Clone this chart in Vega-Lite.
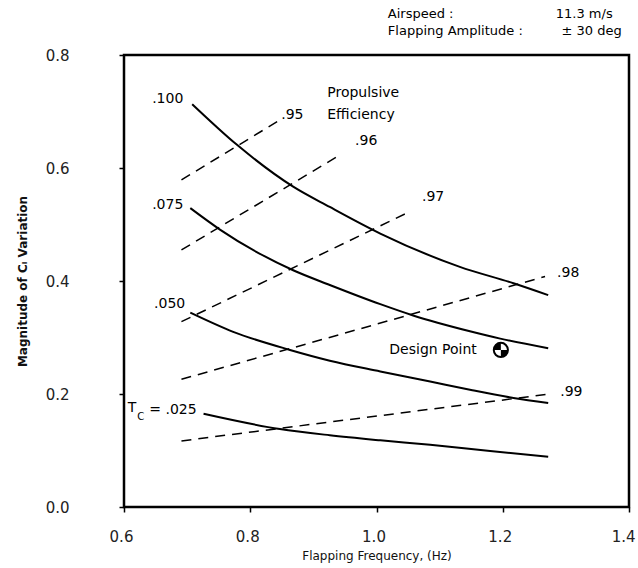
{
  "$schema": "https://vega.github.io/schema/vega-lite/v6.json",
  "width": 505,
  "height": 452,
  "autosize": {"type": "none"},
  "padding": {"left": 124, "top": 55, "right": 9, "bottom": 61},
  "background": "white",
  "config": {
    "font": "DejaVu Sans",
    "view": {"stroke": "black", "strokeWidth": 2.5},
    "axis": {"grid": false, "domain": false, "tickColor": "black", "tickWidth": 1.5, "tickSize": 5, "labelColor": "#222", "titleColor": "#111", "labelFont": "DejaVu Sans", "titleFont": "DejaVu Sans"}
  },
  "datasets": {
    "curves": [
      {"tc": ".100", "f": 0.708, "cl": 0.713},
      {"tc": ".100", "f": 0.779, "cl": 0.641},
      {"tc": ".100", "f": 0.868, "cl": 0.567},
      {"tc": ".100", "f": 0.926, "cl": 0.531},
      {"tc": ".100", "f": 1.006, "cl": 0.484},
      {"tc": ".100", "f": 1.132, "cl": 0.425},
      {"tc": ".100", "f": 1.217, "cl": 0.396},
      {"tc": ".100", "f": 1.272, "cl": 0.375},
      {"tc": ".075", "f": 0.705, "cl": 0.529},
      {"tc": ".075", "f": 0.752, "cl": 0.491},
      {"tc": ".075", "f": 0.868, "cl": 0.419},
      {"tc": ".075", "f": 0.926, "cl": 0.393},
      {"tc": ".075", "f": 1.006, "cl": 0.359},
      {"tc": ".075", "f": 1.058, "cl": 0.339},
      {"tc": ".075", "f": 1.148, "cl": 0.311},
      {"tc": ".075", "f": 1.196, "cl": 0.298},
      {"tc": ".075", "f": 1.272, "cl": 0.281},
      {"tc": ".050", "f": 0.705, "cl": 0.344},
      {"tc": ".050", "f": 0.773, "cl": 0.310},
      {"tc": ".050", "f": 0.863, "cl": 0.278},
      {"tc": ".050", "f": 0.926, "cl": 0.259},
      {"tc": ".050", "f": 1.006, "cl": 0.240},
      {"tc": ".050", "f": 1.085, "cl": 0.222},
      {"tc": ".050", "f": 1.150, "cl": 0.207},
      {"tc": ".050", "f": 1.217, "cl": 0.193},
      {"tc": ".050", "f": 1.272, "cl": 0.184},
      {"tc": ".025", "f": 0.726, "cl": 0.165},
      {"tc": ".025", "f": 0.847, "cl": 0.138},
      {"tc": ".025", "f": 0.926, "cl": 0.127},
      {"tc": ".025", "f": 1.006, "cl": 0.118},
      {"tc": ".025", "f": 1.085, "cl": 0.110},
      {"tc": ".025", "f": 1.180, "cl": 0.099},
      {"tc": ".025", "f": 1.272, "cl": 0.089}
    ],
    "eff": [
      {"eff": ".95", "f": 0.691, "cl": 0.579},
      {"eff": ".95", "f": 0.847, "cl": 0.685},
      {"eff": ".96", "f": 0.691, "cl": 0.455},
      {"eff": ".96", "f": 0.942, "cl": 0.623},
      {"eff": ".97", "f": 0.691, "cl": 0.328},
      {"eff": ".97", "f": 1.053, "cl": 0.523},
      {"eff": ".98", "f": 0.691, "cl": 0.226},
      {"eff": ".98", "f": 1.267, "cl": 0.408},
      {"eff": ".99", "f": 0.691, "cl": 0.117},
      {"eff": ".99", "f": 1.275, "cl": 0.200}
    ],
    "rightLabels": [
      {"label": ".100", "f": 0.694, "cl": 0.722},
      {"label": ".075", "f": 0.694, "cl": 0.534},
      {"label": ".050", "f": 0.697, "cl": 0.360},
      {"label": "Design Point", "f": 1.159, "cl": 0.278}
    ],
    "leftLabels": [
      {"label": ".95", "f": 0.849, "cl": 0.694},
      {"label": ".96", "f": 0.966, "cl": 0.647},
      {"label": ".97", "f": 1.072, "cl": 0.549},
      {"label": ".98", "f": 1.286, "cl": 0.414},
      {"label": ".99", "f": 1.291, "cl": 0.204},
      {"label": "Propulsive", "f": 0.922, "cl": 0.733},
      {"label": "Efficiency", "f": 0.922, "cl": 0.694},
      {"label": "T", "f": 0.606, "cl": 0.175},
      {"label": "= .025", "f": 0.640, "cl": 0.172}
    ],
    "subLabels": [
      {"label": "C", "f": 0.621, "cl": 0.160}
    ],
    "header": [
      {"label": "Airspeed :", "f": 1.018, "cl": 0.873},
      {"label": "Flapping Amplitude :", "f": 1.018, "cl": 0.842},
      {"label": "11.3  m/s", "f": 1.284, "cl": 0.873},
      {"label": "± 30 deg", "f": 1.293, "cl": 0.842}
    ],
    "design": [
      {"f": 1.197, "cl": 0.278}
    ]
  },
  "encoding": {
    "x": {
      "field": "f", "type": "quantitative",
      "scale": {"domain": [0.6, 1.4], "nice": false, "zero": false},
      "axis": {
        "values": [0.6, 0.8, 1.0, 1.2, 1.4], "format": ".1f", "labelFontSize": 15, "labelPadding": 17,
        "labelAlign": {"condition": {"test": "datum.value >= 1.39", "value": "right"}, "value": "center"},
        "labelOffset": {"condition": {"test": "datum.value >= 1.39", "value": 6}, "value": -3},
        "title": "Flapping Frequency,  (Hz)", "titleFontSize": 12, "titleFontWeight": "normal", "titlePadding": 6, "labelFlush": false
      }
    },
    "y": {
      "field": "cl", "type": "quantitative",
      "scale": {"domain": [0, 0.8], "nice": false, "zero": false},
      "axis": {"values": [0, 0.2, 0.4, 0.6, 0.8], "format": ".1f", "labelFontSize": 15, "labelPadding": 50, "title": "Magnitude of Cₗ Variation", "titleFontSize": 12, "titleFontWeight": "bold", "titlePadding": 16}
    }
  },
  "layer": [
    {
      "data": {"name": "eff"},
      "mark": {"type": "line", "color": "black", "strokeWidth": 1.5, "strokeDash": [10, 7]},
      "encoding": {"detail": {"field": "eff"}}
    },
    {
      "data": {"name": "curves"},
      "mark": {"type": "line", "color": "black", "strokeWidth": 2, "interpolate": "monotone"},
      "encoding": {"detail": {"field": "tc"}}
    },
    {
      "data": {"name": "rightLabels"},
      "mark": {"type": "text", "align": "right", "baseline": "middle", "fontSize": 14, "color": "black"},
      "encoding": {"text": {"field": "label"}}
    },
    {
      "data": {"name": "leftLabels"},
      "mark": {"type": "text", "align": "left", "baseline": "middle", "fontSize": 14, "color": "black"},
      "encoding": {"text": {"field": "label"}}
    },
    {
      "data": {"name": "subLabels"},
      "mark": {"type": "text", "align": "left", "baseline": "middle", "fontSize": 10, "color": "black"},
      "encoding": {"text": {"field": "label"}}
    },
    {
      "data": {"name": "header"},
      "mark": {"type": "text", "align": "left", "baseline": "middle", "fontSize": 13, "color": "black", "clip": false},
      "encoding": {"text": {"field": "label"}}
    },
    {
      "data": {"name": "design"},
      "mark": {"type": "point", "shape": "circle", "size": 200, "filled": true, "fill": "white", "stroke": "black", "strokeWidth": 2, "opacity": 1}
    },
    {
      "data": {"name": "design"},
      "mark": {"type": "point", "shape": "M0,0 L-1,0 A1,1 0 0,1 0,-1 Z M0,0 L1,0 A1,1 0 0,1 0,1 Z", "size": 200, "filled": true, "fill": "black", "strokeWidth": 0, "opacity": 1}
    }
  ]
}
